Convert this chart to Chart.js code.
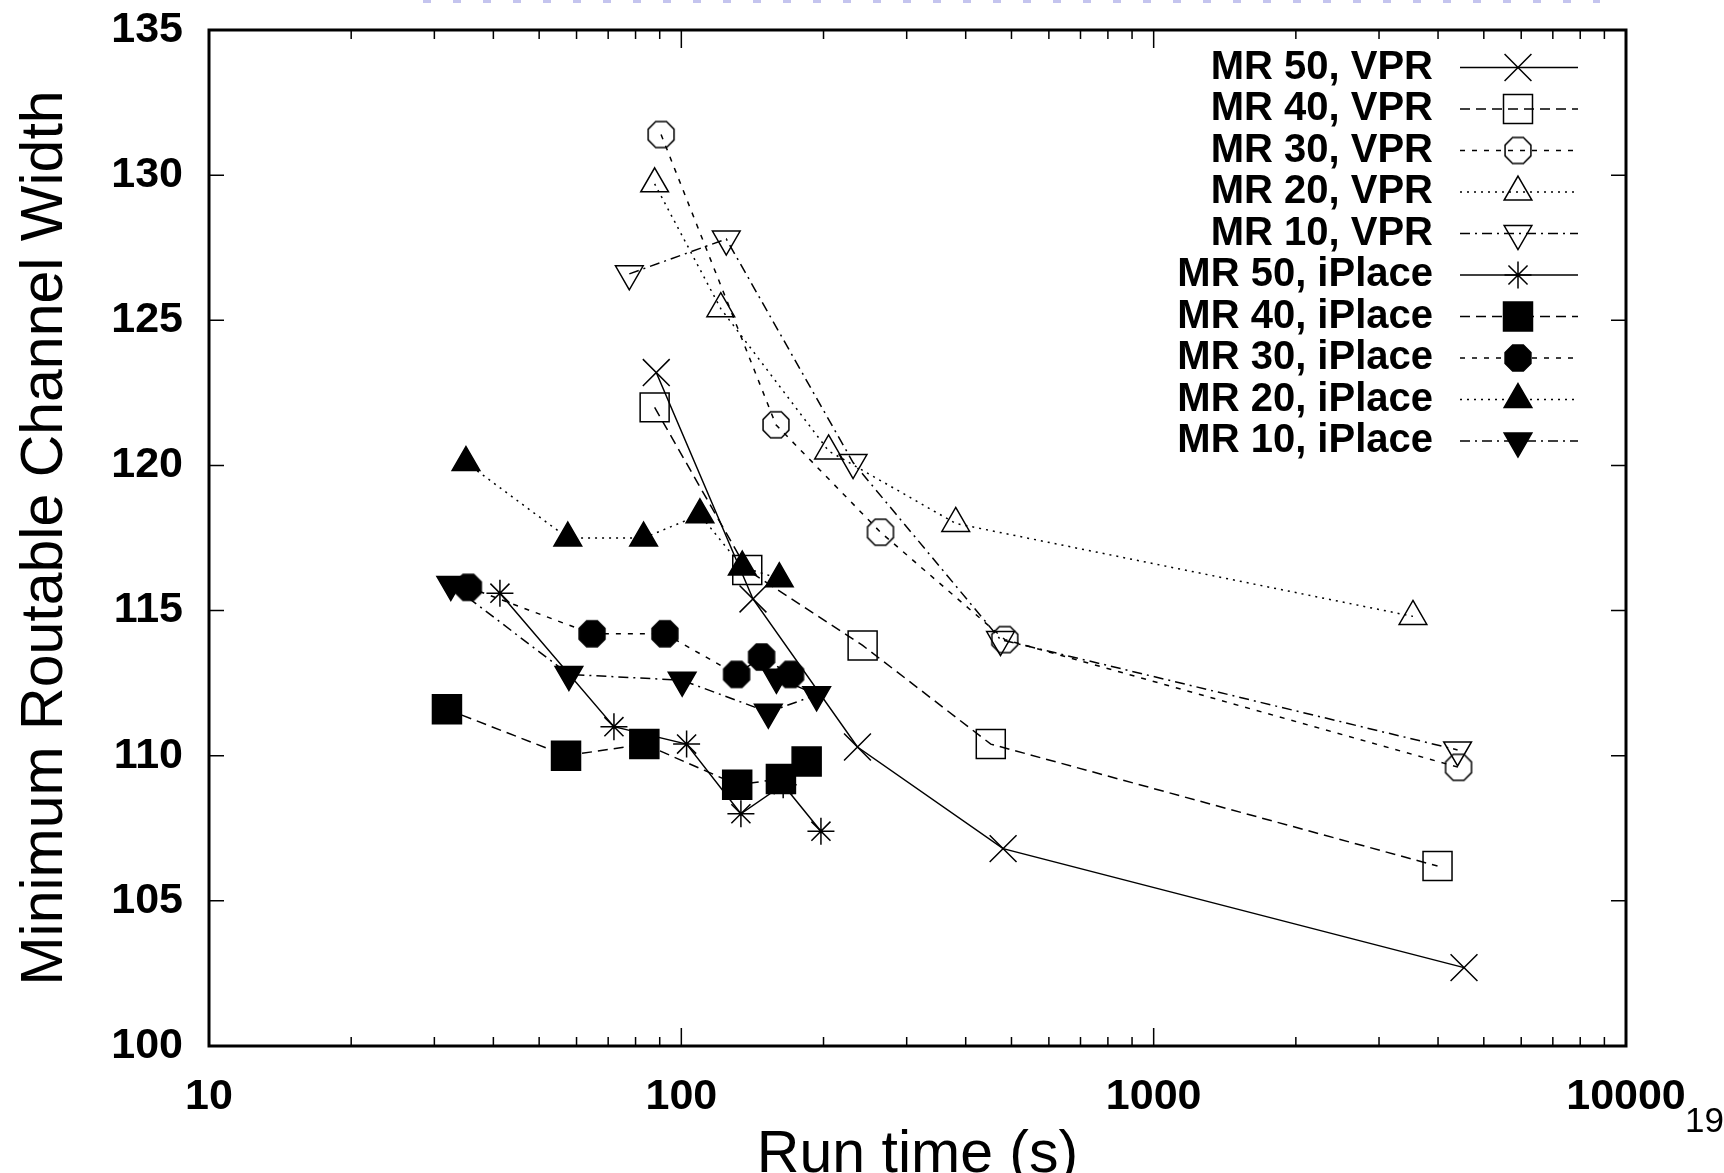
<!DOCTYPE html>
<html>
<head>
<meta charset="utf-8">
<script src="https://cdn.jsdelivr.net/npm/chart.js@4"></script>
<style>
  html, body { margin: 0; padding: 0; background: #fff; }
  canvas { display: block; }
</style>
</head>
<body>
<canvas id="chart" width="1724" height="1173"></canvas>
<script>
// run time (s) and minimum routable channel width, one pair of arrays per series
const mr50VprTime = [88.5, 141.8, 236, 480, 4540];
const mr50VprWidth = [123.2, 115.4, 110.3, 106.8, 102.7];
const mr40VprTime = [87.8, 137.9, 242, 452, 3990];
const mr40VprWidth = [122.0, 116.4, 113.8, 110.4, 106.2];
const mr30VprTime = [90.6, 158.6, 264, 484, 4420];
const mr30VprWidth = [131.4, 121.4, 117.7, 114.0, 109.6];
const mr20VprTime = [87.8, 121.2, 205, 381, 3540];
const mr20VprWidth = [129.7, 125.4, 120.5, 118.0, 114.8];
const mr10VprTime = [77.6, 124.5, 231, 474, 4400];
const mr10VprWidth = [126.6, 127.8, 120.1, 114.0, 110.2];

const mr50IplaceTime = [41.3, 72.0, 102.6, 133.7, 164.3, 197.5];
const mr50IplaceWidth = [115.6, 111.0, 110.4, 108.0, 109.0, 107.4];
const mr40IplaceTime = [31.9, 57.0, 83.5, 131.3, 162.5, 184.2];
const mr40IplaceWidth = [111.6, 110.0, 110.4, 109.0, 109.2, 109.8];
const mr30IplaceTime = [35.4, 64.7, 92.3, 130.9, 147.9, 170.3];
const mr30IplaceWidth = [115.8, 114.2, 114.2, 112.8, 113.4, 112.8];
const mr20IplaceTime = [35.0, 57.5, 83.2, 109.5, 134.6, 161.2];
const mr20IplaceWidth = [120.1, 117.5, 117.5, 118.3, 116.5, 116.1];
const mr10IplaceTime = [32.5, 57.8, 100.4, 152.8, 193.4, 159.0];
const mr10IplaceWidth = [115.9, 112.8, 112.6, 111.5, 112.1, 112.7];

const xTickLabels = [10, 100, 1000, 10000];
const yTickLabels = [100, 105, 110, 115, 120, 125, 130, 135];

const FONT = "'Liberation Sans', Arial, Helvetica, sans-serif";

// gnuplot style octagon marker
function octagon(filled) {
  const c = document.createElement('canvas');
  c.width = 32; c.height = 32;
  const g = c.getContext('2d');
  g.beginPath();
  for (let k = 0; k < 8; k++) {
    const a = Math.PI / 8 + k * Math.PI / 4;
    const px = 16 + 14 * Math.cos(a), py = 16 + 14 * Math.sin(a);
    if (k === 0) g.moveTo(px, py); else g.lineTo(px, py);
  }
  g.closePath();
  if (filled) { g.fillStyle = '#000'; g.fill(); }
  g.lineWidth = 1.5;
  g.strokeStyle = '#000';
  g.stroke();
  return c;
}

const DASH = {
  solid: [],
  dashed: [10, 6],
  short: [5, 7],
  dotted: [2, 5],
  dashDot: [10, 5, 2, 5]
};

function series(label, xs, ys, marker, radius, rotation, filled, dash) {
  return {
    label: label,
    data: xs.map((x, i) => ({ x: x, y: ys[i] })),
    showLine: true,
    fill: false,
    tension: 0,
    borderColor: '#000',
    borderWidth: 1.5,
    borderDash: dash,
    pointStyle: marker,
    pointRadius: radius,
    pointRotation: rotation,
    pointBorderColor: '#000',
    pointBorderWidth: 1.5,
    pointBackgroundColor: filled ? '#000' : 'rgba(0,0,0,0)'
  };
}

const datasets = [
  series('MR 50, VPR', mr50VprTime, mr50VprWidth, 'crossRot', 19, 0, false, DASH.solid),
  series('MR 40, VPR', mr40VprTime, mr40VprWidth, 'rect', 20.5, 0, false, DASH.dashed),
  series('MR 30, VPR', mr30VprTime, mr30VprWidth, octagon(false), 15, 0, false, DASH.short),
  series('MR 20, VPR', mr20VprTime, mr20VprWidth, 'triangle', 16, 0, false, DASH.dotted),
  series('MR 10, VPR', mr10VprTime, mr10VprWidth, 'triangle', 16, 180, false, DASH.dashDot),
  series('MR 50, iPlace', mr50IplaceTime, mr50IplaceWidth, 'star', 13.5, 0, false, DASH.solid),
  series('MR 40, iPlace', mr40IplaceTime, mr40IplaceWidth, 'rect', 20.5, 0, true, DASH.dashed),
  series('MR 30, iPlace', mr30IplaceTime, mr30IplaceWidth, octagon(true), 15, 0, true, DASH.short),
  series('MR 20, iPlace', mr20IplaceTime, mr20IplaceWidth, 'triangle', 16, 0, true, DASH.dotted),
  series('MR 10, iPlace', mr10IplaceTime, mr10IplaceWidth, 'triangle', 16, 180, true, DASH.dashDot)
];
// later series are drawn on top, like gnuplot does
datasets.forEach((ds, i) => { ds.order = -i; });

// key inside the plot, top right
const insideLegend = {
  id: 'insideLegend',
  afterDatasetsDraw(chart) {
    const ctx = chart.ctx;
    ctx.save();
    chart.data.datasets.forEach((ds, i) => {
      const y = 67.5 + 41.5 * i;
      ctx.font = 'bold 40px ' + FONT;
      ctx.textAlign = 'right';
      ctx.textBaseline = 'middle';
      ctx.fillStyle = '#000';
      ctx.fillText(ds.label, 1433, y);

      ctx.strokeStyle = '#000';
      ctx.lineWidth = ds.borderWidth;
      ctx.setLineDash(ds.borderDash);
      ctx.beginPath();
      ctx.moveTo(1460, y);
      ctx.lineTo(1578, y);
      ctx.stroke();
      ctx.setLineDash([]);

      ctx.fillStyle = ds.pointBackgroundColor;
      ctx.lineWidth = ds.pointBorderWidth;
      Chart.helpers.drawPoint(ctx, {
        pointStyle: ds.pointStyle,
        rotation: ds.pointRotation,
        radius: ds.pointRadius,
        borderWidth: ds.pointBorderWidth
      }, 1518, y);
    });
    ctx.restore();
  }
};

// frame, inward ticks, axis titles, page number
const frame = {
  id: 'frame',
  afterDraw(chart) {
    const ctx = chart.ctx;
    const a = chart.chartArea;
    const xs = chart.scales.x, ys = chart.scales.y;
    ctx.save();
    ctx.strokeStyle = '#000';

    ctx.lineWidth = 1.5;
    ctx.beginPath();
    for (let e = 1; e <= 4; e++) {
      for (let m = 1; m <= 9; m++) {
        const v = m * Math.pow(10, e);
        if (v > 10000) break;
        const px = xs.getPixelForValue(v);
        const len = m === 1 ? 18 : 9;
        ctx.moveTo(px, a.bottom); ctx.lineTo(px, a.bottom - len);
        ctx.moveTo(px, a.top); ctx.lineTo(px, a.top + len);
      }
    }
    yTickLabels.forEach(v => {
      const py = ys.getPixelForValue(v);
      ctx.moveTo(a.left, py); ctx.lineTo(a.left + 15, py);
      ctx.moveTo(a.right, py); ctx.lineTo(a.right - 15, py);
    });
    ctx.stroke();

    ctx.lineWidth = 3;
    ctx.strokeRect(a.left, a.top, a.right - a.left, a.bottom - a.top);

    ctx.fillStyle = '#000';
    ctx.font = '59px ' + FONT;
    ctx.textAlign = 'center';
    ctx.textBaseline = 'alphabetic';
    ctx.fillText('Run time (s)', (a.left + a.right) / 2, 1172);

    ctx.save();
    ctx.translate(62, (a.top + a.bottom) / 2);
    ctx.rotate(-Math.PI / 2);
    ctx.fillText('Minimum Routable Channel Width', 0, 0);
    ctx.restore();

    ctx.font = '35px ' + FONT;
    ctx.textAlign = 'left';
    ctx.fillText('19', 1685, 1132);

    // faint slide decoration along the top edge
    ctx.strokeStyle = '#c4c4ee';
    ctx.lineWidth = 3;
    ctx.setLineDash([8, 22]);
    ctx.beginPath();
    ctx.moveTo(423, 1.5);
    ctx.lineTo(1600, 1.5);
    ctx.stroke();
    ctx.restore();
  }
};

const tickFont = { family: FONT, size: 43, weight: 'bold' };

new Chart(document.getElementById('chart').getContext('2d'), {
  type: 'scatter',
  data: { datasets: datasets },
  options: {
    responsive: false,
    animation: false,
    events: [],
    layout: { padding: { left: 0, top: 30, right: 98, bottom: 0 } },
    plugins: {
      legend: { display: false },
      tooltip: { enabled: false }
    },
    scales: {
      x: {
        type: 'logarithmic',
        min: 10,
        max: 10000,
        grid: { display: false, drawTicks: false },
        border: { display: false },
        ticks: {
          autoSkip: false,
          maxRotation: 0,
          padding: 25,
          color: '#000',
          font: tickFont,
          callback(v) {
            const hit = xTickLabels.find(t => Math.abs(t - v) < 1e-6 * t);
            return hit ? String(hit) : '';
          }
        },
        afterFit(s) {
          s.height = 127;
          s.paddingLeft = 0; s.paddingRight = 0;
        }
      },
      y: {
        min: 100,
        max: 135,
        grid: { display: false, drawTicks: false },
        border: { display: false },
        ticks: {
          stepSize: 5,
          padding: 26,
          color: '#000',
          font: tickFont,
          callback(v) { return yTickLabels.includes(v) ? String(v) : ''; }
        },
        afterFit(s) {
          s.width = 209;
          s.paddingTop = 0; s.paddingBottom = 0;
        }
      }
    }
  },
  plugins: [insideLegend, frame]
});
</script>
</body>
</html>
